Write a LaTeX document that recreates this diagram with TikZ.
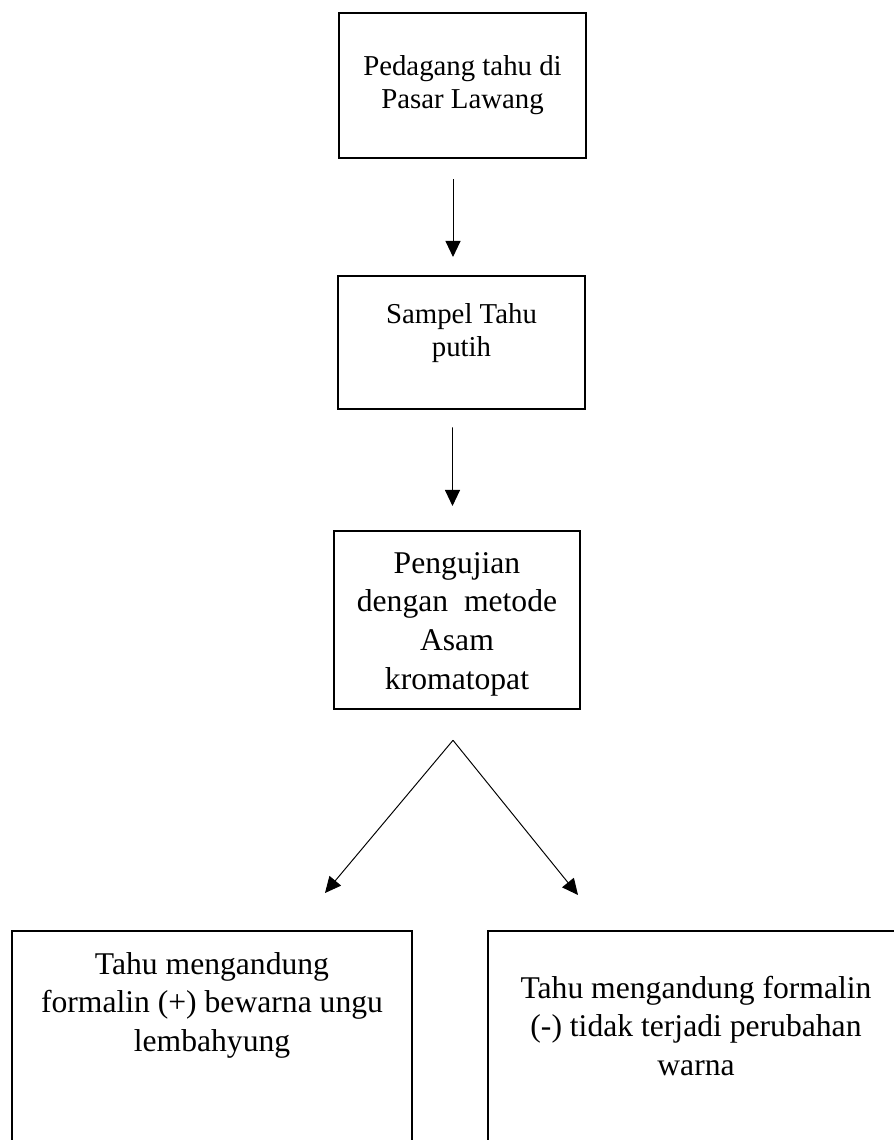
\documentclass[tikz,border=0pt]{standalone}
\usepackage{fontspec}
\setmainfont{Liberation Serif}
\usetikzlibrary{arrows.meta}
\newcommand{\boxlines}[4]{\parbox[t][#1][t]{#2}{\centering\rule{0pt}{#3}#4}}

\begin{document}
\begin{tikzpicture}[x=1cm,y=1cm,
  box/.style={draw,line width=1.3pt,inner sep=0pt,anchor=north},
  small/.style={font=\fontsize{16.4}{19}\selectfont},
  large/.style={font=\fontsize{18}{22}\selectfont},
  arr/.style={line width=.55pt,-{Triangle[length=.32cm,width=.3cm]}}]
\useasboundingbox (0,0) rectangle (17.86,22.8);
\node[box,small] (b1) at (9.25,22.56) {\boxlines{2.9cm}{4.94cm}{1.24cm}{Pedagang tahu di\\Pasar Lawang}};
\node[box,small] (b2) at (9.23,17.3) {\boxlines{2.66cm}{4.94cm}{.94cm}{Sampel Tahu\\putih}};
\node[box,large] (b3) at (9.14,12.2) {\boxlines{3.56cm}{4.92cm}{.84cm}{Pengujian\\dengan~ metode\\Asam\\kromatopat}};
\node[box,large] (b4) at (4.24,4.2) {\boxlines{5cm}{8cm}{.86cm}{Tahu mengandung\\formalin (+) bewarna ungu\\lembahyung}};
\node[box,large] (b5) at (13.92,4.2) {\boxlines{5cm}{8.32cm}{1.34cm}{Tahu mengandung formalin\\(-) tidak terjadi perubahan\\warna}};
\coordinate (split) at ([xshift=-.08cm,yshift=-.6cm]b3.south);
\draw[arr] ([xshift=-.19cm,yshift=-.4cm]b1.south) -- ([xshift=-.17cm,yshift=.36cm]b2.north);
\draw[arr] ([xshift=-.18cm,yshift=-.34cm]b2.south) -- ([xshift=-.09cm,yshift=.48cm]b3.north);
\draw[arr] (split) -- ([xshift=2.26cm,yshift=.74cm]b4.north);
\draw[arr] (split) -- ([xshift=-2.36cm,yshift=.7cm]b5.north);
\end{tikzpicture}
\end{document}
